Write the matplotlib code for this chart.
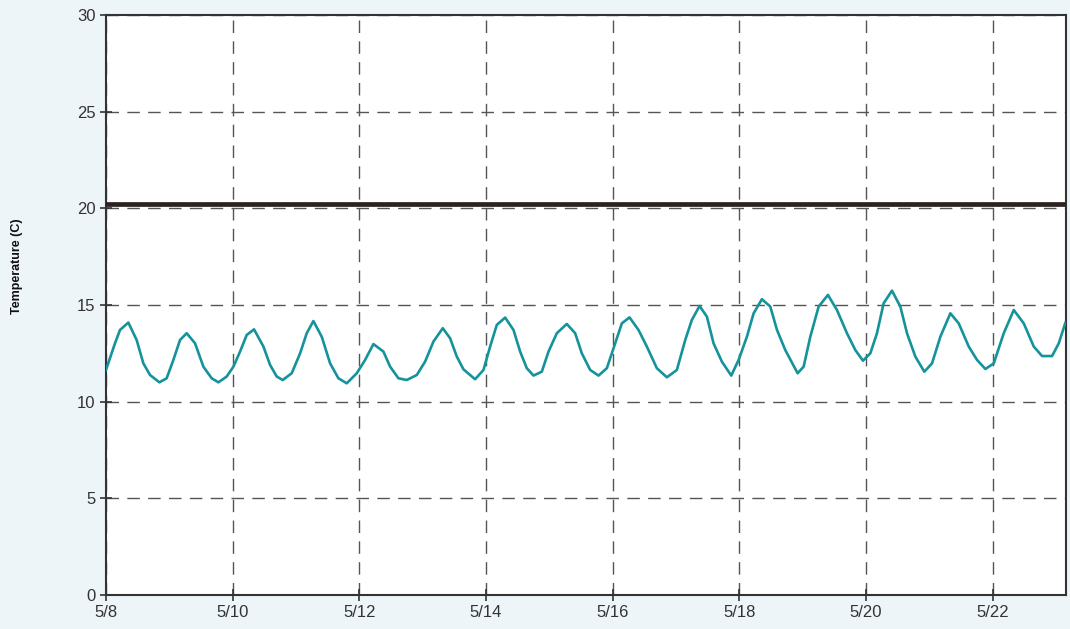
import matplotlib.pyplot as plt

# days after 5/8 00:00, temperature in C
days = [0.0, 0.142, 0.221, 0.353, 0.484, 0.590, 0.695, 0.843, 0.958, 1.064,
        1.169, 1.274, 1.406, 1.538, 1.669, 1.775, 1.906, 2.012, 2.117, 2.222,
        2.338, 2.486, 2.591, 2.696, 2.791, 2.933, 3.065, 3.170, 3.275, 3.407,
        3.539, 3.670, 3.802, 3.960, 4.092, 4.223, 4.381, 4.487, 4.618, 4.750,
        4.908, 5.039, 5.171, 5.318, 5.434, 5.540, 5.645, 5.829, 5.961, 6.066,
        6.171, 6.303, 6.435, 6.540, 6.645, 6.751, 6.882, 6.988, 7.119, 7.277,
        7.409, 7.514, 7.646, 7.778, 7.909, 8.041, 8.146, 8.267, 8.409, 8.541,
        8.699, 8.857, 9.015, 9.147, 9.252, 9.373, 9.489, 9.594, 9.726, 9.874,
        9.990, 10.121, 10.227, 10.358, 10.490, 10.596, 10.727, 10.922, 11.017, 11.122,
        11.254, 11.401, 11.543, 11.701, 11.833, 11.954, 12.070, 12.175, 12.280, 12.412,
        12.544, 12.649, 12.781, 12.923, 13.044, 13.176, 13.334, 13.466, 13.624, 13.755,
        13.887, 14.019, 14.177, 14.335, 14.493, 14.651, 14.782, 14.940, 15.046, 15.151]
temps = [11.64, 13.02, 13.71, 14.09, 13.19, 11.98, 11.38, 11.00, 11.21, 12.16,
         13.19, 13.54, 13.02, 11.81, 11.21, 11.00, 11.30, 11.81, 12.59, 13.45,
         13.74, 12.85, 11.90, 11.30, 11.12, 11.47, 12.50, 13.54, 14.17, 13.36,
         11.98, 11.21, 10.95, 11.47, 12.16, 12.98, 12.59, 11.81, 11.21, 11.12,
         11.38, 12.07, 13.11, 13.80, 13.28, 12.33, 11.67, 11.16, 11.64, 12.85,
         13.97, 14.35, 13.71, 12.59, 11.73, 11.35, 11.55, 12.59, 13.54, 14.02,
         13.54, 12.50, 11.64, 11.35, 11.73, 13.02, 14.05, 14.36, 13.71, 12.85,
         11.73, 11.26, 11.64, 13.19, 14.23, 14.95, 14.40, 13.02, 12.07, 11.35,
         12.16, 13.36, 14.57, 15.30, 14.92, 13.71, 12.67, 11.47, 11.81, 13.36,
         14.92, 15.52, 14.74, 13.54, 12.67, 12.12, 12.50, 13.54, 15.09, 15.74,
         14.92, 13.54, 12.33, 11.55, 11.98, 13.36, 14.57, 14.05, 12.85, 12.16,
         11.69, 11.98, 13.54, 14.74, 14.05, 12.85, 12.36, 12.36, 13.02, 14.09]

threshold = 20.2
tick_days = [0, 2, 4, 6, 8, 10, 12, 14]
tick_labels = ['5/8', '5/10', '5/12', '5/14', '5/16', '5/18', '5/20', '5/22']
y_ticks = [0, 5, 10, 15, 20, 25, 30]

plt.rcParams['font.family'] = ['Liberation Sans', 'DejaVu Sans']

fig = plt.figure(figsize=(10.7, 6.29), dpi=100, facecolor='#eef5f8')
ax = fig.add_axes([106 / 1070, 34 / 629, 960 / 1070, 580 / 629])
ax.set_facecolor('white')

ax.plot(days, temps, color='#15939b', linewidth=1.9, zorder=3)
ax.axhline(threshold, color='#2b2222', linewidth=3.4, zorder=4)

ax.set_xlim(0, 15.16)
ax.set_ylim(0, 30)
ax.set_xticks(tick_days)
ax.set_xticklabels(tick_labels)
ax.set_yticks(y_ticks)
ax.grid(True, color='#555555', linestyle=(0, (9, 6)), linewidth=1.0)
ax.set_axisbelow(True)

for s in ax.spines.values():
    s.set_color('#333333')
    s.set_linewidth(1.5)

ax.tick_params(direction='inout', length=9, width=1.2, color='#333333',
               labelsize=12, labelcolor='#333333', pad=3)
ax.set_ylabel('Temperature (C)', fontsize=9, fontweight='bold', color='#111111')
ax.yaxis.set_label_coords(-0.0865, 0.567)

fig.savefig('out.png', dpi=100, facecolor=fig.get_facecolor())
